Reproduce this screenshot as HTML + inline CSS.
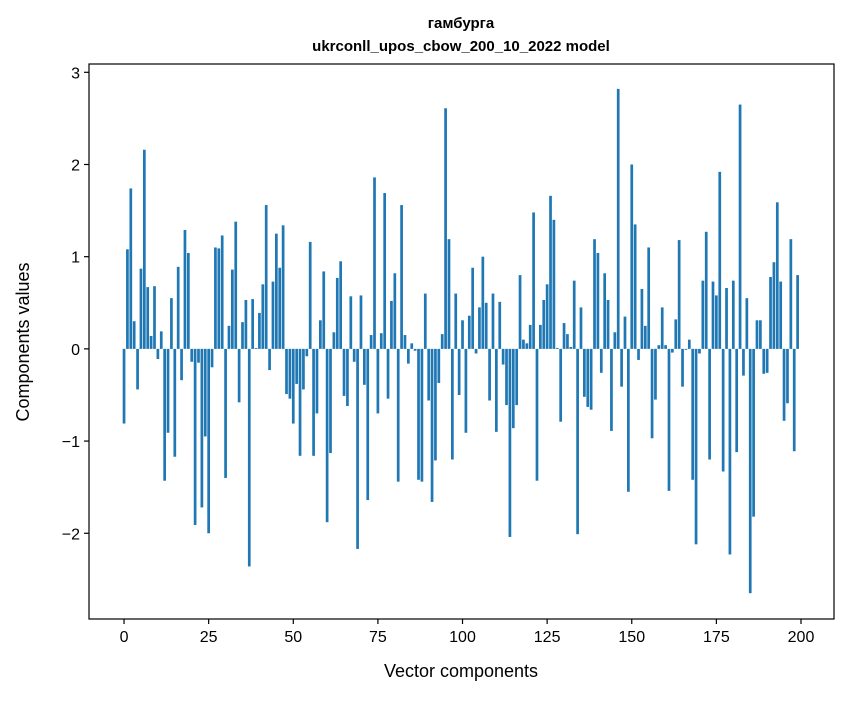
<!DOCTYPE html>
<html><head><meta charset="utf-8"><style>
body{margin:0;background:#fff;font-family:"Liberation Sans","DejaVu Sans",sans-serif}
svg text{font-family:"Liberation Sans","DejaVu Sans",sans-serif}
</style></head><body>
<svg id="chart" width="847" height="696" xmlns="http://www.w3.org/2000/svg">
<rect width="847" height="696" fill="#fff"/>
<text x="461" y="28" text-anchor="middle" font-size="15" font-weight="bold">гамбурга</text>
<text x="461" y="51" text-anchor="middle" font-size="15" font-weight="bold">ukrconll_upos_cbow_200_10_2022 model</text>
<g id="bars"></g>
<g id="axes"></g>
<text x="461" y="677" text-anchor="middle" font-size="18">Vector components</text>
<text x="29" y="342" text-anchor="middle" font-size="18" transform="rotate(-90 29 342)">Components values</text>
</svg>
<script>
const values = [-0.81,1.08,1.74,0.30,-0.44,0.87,2.16,0.67,0.14,0.68,-0.11,0.19,-1.43,-0.91,0.55,-1.17,0.89,-0.34,1.29,1.04,-0.14,-1.91,-0.15,-1.72,-0.95,-2.0,-0.2,1.10,1.09,1.23,-1.40,0.25,0.86,1.38,-0.58,0.29,0.53,-2.36,0.54,
0.01,
0.39,0.70,1.56,-0.23,0.73,1.25,0.88,1.34,-0.49,-0.54,-0.81,-0.38,-1.16,-0.44,-0.08,1.16,-1.16,-0.70,0.31,0.84,-1.88,-1.13,0.18,0.77,0.95,-0.51,-0.62,0.57,-0.14,-2.17,0.58,-0.39,-1.64,0.15,1.86,-0.70,0.17,1.69,-0.54,0.52,
0.82,-1.44,1.56,0.15,-0.16,0.06,-0.02,-1.42,-1.44,0.60,-0.56,-1.66,-1.21,-0.37,0.16,2.61,1.19,-1.20,0.60,-0.50,0.31,-0.91,0.36,0.88,-0.05,0.45,1.00,0.50,-0.56,0.60,-0.90,0.51,-0.17,-0.61,-2.04,-0.86,-0.61,0.80,0.10,0.06,
0.26,1.48,-1.43,0.26,0.53,0.70,1.66,1.40,0.01,-0.79,0.28,0.16,0.02,0.74,-2.01,0.45,-0.52,-0.63,-0.66,1.19,1.04,-0.26,0.82,0.53,-0.89,0.18,2.82,-0.41,0.35,-1.55,2.00,1.35,-0.12,0.65,0.25,1.10,-0.97,-0.55,0.04,0.45,
0.04,-1.54,-0.04,0.32,1.18,-0.41,-0.01,0.10,-1.42,-2.12,-0.05,0.74,1.27,-1.20,0.73,0.58,1.92,-1.33,0.66,-2.23,0.74,-1.12,2.65,-0.29,0.55,-2.65,-1.82,0.31,0.31,-0.27,-0.26,0.78,0.94,1.59,0.73,-0.78,-0.59,1.19,-1.11,0.80];
const xTicks = [0,25,50,75,100,125,150,175,200];
const yTicks = [-2,-1,0,1,2,3];
const yTickLabels = ["\u22122","\u22121","0","1","2","3"];

const L=89,R=834,T=64,B=619;
const X0=-10.35, X1=209.75, Y0=-2.93, Y1=3.09;
const sx=v=>L+(v-X0)/(X1-X0)*(R-L);
const sy=v=>B-(v-Y0)/(Y1-Y0)*(B-T);
const NS="http://www.w3.org/2000/svg";
const bars=document.getElementById('bars');
const bw=sx(0.8)-sx(0);
values.forEach((v,i)=>{
  const r=document.createElementNS(NS,'rect');
  const y0=sy(0), y1=sy(v);
  r.setAttribute('x',sx(i)-bw/2);
  r.setAttribute('y',Math.min(y0,y1));
  r.setAttribute('width',bw);
  r.setAttribute('height',Math.abs(y1-y0));
  r.setAttribute('fill','#1f77b4');
  
  
  bars.appendChild(r);
});
const axes=document.getElementById('axes');
const frame=document.createElementNS(NS,'rect');
frame.setAttribute('x',L);frame.setAttribute('y',T);
frame.setAttribute('width',R-L);frame.setAttribute('height',B-T);
frame.setAttribute('fill','none');frame.setAttribute('stroke','#000');frame.setAttribute('stroke-width','1.2');


axes.appendChild(frame);
xTicks.forEach(t=>{
  const x=sx(t);
  const l=document.createElementNS(NS,'line');
  l.setAttribute('x1',x);l.setAttribute('x2',x);l.setAttribute('y1',B);l.setAttribute('y2',B+5);
  l.setAttribute('stroke','#000');l.setAttribute('stroke-width','1.2');
  
  
  axes.appendChild(l);
  const tx=document.createElementNS(NS,'text');
  tx.setAttribute('x',x);tx.setAttribute('y',B+23);tx.setAttribute('text-anchor','middle');tx.setAttribute('font-size','16');
  tx.textContent=t;
  
  
  axes.appendChild(tx);
});
yTicks.forEach((t,i)=>{
  const y=sy(t);
  const l=document.createElementNS(NS,'line');
  l.setAttribute('x1',L-5);l.setAttribute('x2',L);l.setAttribute('y1',y);l.setAttribute('y2',y);
  l.setAttribute('stroke','#000');l.setAttribute('stroke-width','1.2');
  
  
  axes.appendChild(l);
  const tx=document.createElementNS(NS,'text');
  tx.setAttribute('x',L-9);tx.setAttribute('y',y+6);tx.setAttribute('text-anchor','end');tx.setAttribute('font-size','16');
  tx.textContent=yTickLabels[i];
  
  
  axes.appendChild(tx);
});
</script>
</body></html>
